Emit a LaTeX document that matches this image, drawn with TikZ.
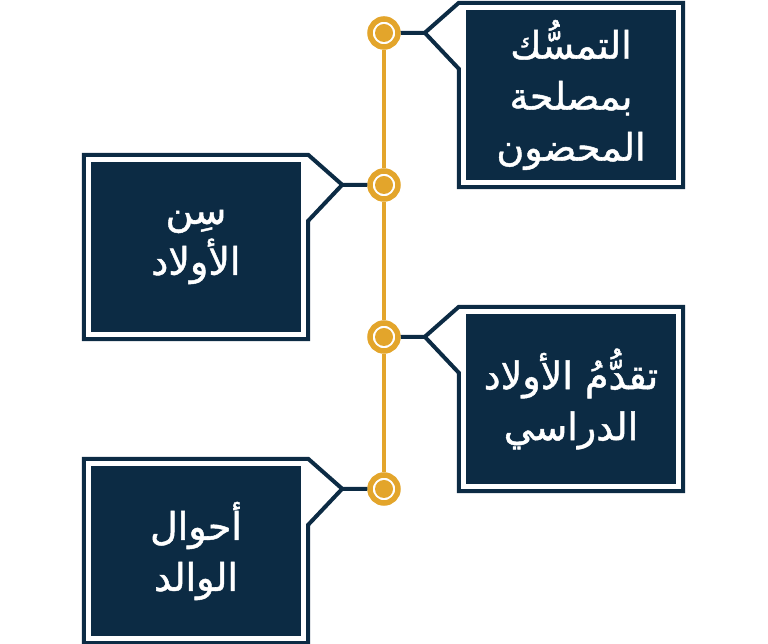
\documentclass[tikz,border=0pt]{standalone}
\usepackage{fontspec}
\usepackage{tikz}
\usetikzlibrary{positioning}
\TeXXeTstate=1
\newfontfamily\arabicfont[Script=Arabic, FakeBold=1.2]{DejaVu Sans}
\definecolor{navy}{HTML}{0C2B44}
\definecolor{gold}{HTML}{E3A52B}
\tikzset {
    node distance=152pt,
    ring/.style={circle, draw=gold, line width=5.5pt, fill=white, minimum size=28pt, inner sep=0pt},
    dot/.style={fill=gold},
    panel/.style={fill=navy, minimum width=210pt, minimum height=170pt, inner sep=0pt,
        text=white, align=center, font=\arabicfont\fontsize{38}{51}\selectfont},
    frame/.style={draw=navy, line width=4pt, line join=miter},
    stem/.style={draw=navy, line width=4pt},
    spine/.style={draw=gold, line width=4pt}
}

\begin{document}
\begin{tikzpicture}[x=1pt, y=1pt]
                        \useasboundingbox (0,0) rectangle (768,644);

                        % timeline dots
                        \node[ring] (c1) at (384,611) {};
                        \node[ring, below of=c1] (c2) {};
                        \node[ring, below of=c2] (c3) {};
                        \node[ring, below of=c3] (c4) {};
                        \foreach \c in {c1,c2,c3,c4}
                            \fill[dot] (\c) circle (9pt);

                        \draw[spine] (c1) -- (c2) (c2) -- (c3) (c3) -- (c4);

                        % panels
                        \node[panel] (hold) at ([shift={(187,-62)}]c1) {\beginR التمسُّك\endR\\ \beginR بمصلحة\endR\\ \beginR المحضون\endR};
                        \node[panel] (age) at ([shift={(-188,-62)}]c2) {\beginR سِن\endR\\ \beginR الأولاد\endR};
                        \node[panel] (study) at ([shift={(187,-62)}]c3) {\beginR تقدُّمُ الأولاد\endR\\ \beginR الدراسي\endR};
                        \node[panel] (father) at ([shift={(-188,-62)}]c4) {\beginR أحوال\endR\\ \beginR الوالد\endR};

                        % arrow tips of the frames
                        \coordinate (t1) at ([shift={(-41,-23)}]hold.north west);
                        \coordinate (t2) at ([shift={(41,-23)}]age.north east);
                        \coordinate (t3) at ([shift={(-41,-23)}]study.north west);
                        \coordinate (t4) at ([shift={(41,-23)}]father.north east);

                        \draw[frame] ([shift={(-7,7)}]hold.north west) -- ([shift={(7,7)}]hold.north east) -- ([shift={(7,-7)}]hold.south east) -- ([shift={(-7,-7)}]hold.south west) -- ([shift={(-7,-59)}]hold.north west) -- (t1) -- cycle;
                        \draw[frame] ([shift={(-7,7)}]study.north west) -- ([shift={(7,7)}]study.north east) -- ([shift={(7,-7)}]study.south east) -- ([shift={(-7,-7)}]study.south west) -- ([shift={(-7,-59)}]study.north west) -- (t3) -- cycle;
                        \draw[frame] ([shift={(7,7)}]age.north east) -- (t2) -- ([shift={(7,-59)}]age.north east) -- ([shift={(7,-7)}]age.south east) -- ([shift={(-7,-7)}]age.south west) -- ([shift={(-7,7)}]age.north west) -- cycle;
                        \draw[frame] ([shift={(7,7)}]father.north east) -- (t4) -- ([shift={(7,-59)}]father.north east) -- ([shift={(7,-7)}]father.south east) -- ([shift={(-7,-7)}]father.south west) -- ([shift={(-7,7)}]father.north west) -- cycle;

                        \draw[stem] (t1) -- (c1);
                        \draw[stem] (t2) -- (c2);
                        \draw[stem] (t3) -- (c3);
                        \draw[stem] (t4) -- (c4);

                    \end{tikzpicture}
\end{document}
